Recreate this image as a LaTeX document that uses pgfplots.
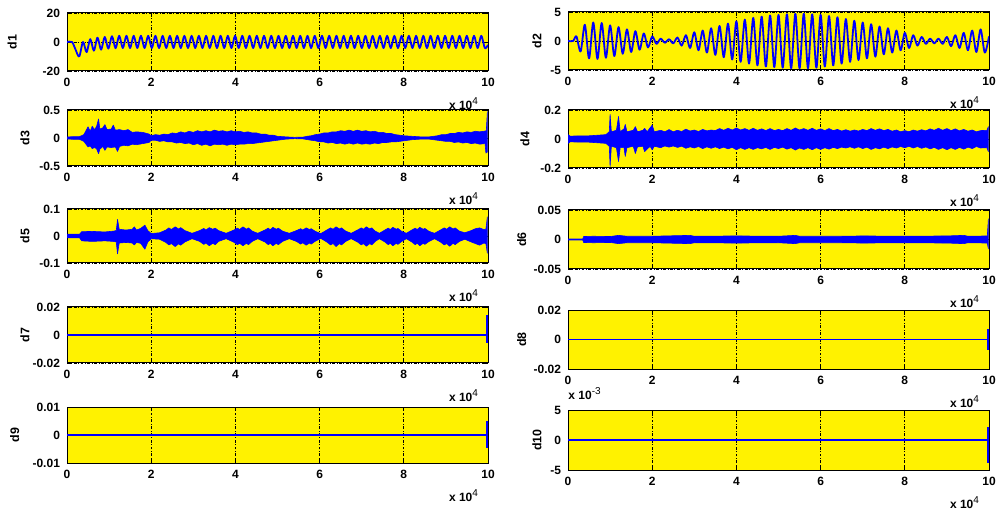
\documentclass[border=0pt]{standalone}
\usepackage{fontspec}
\setmainfont{Liberation Sans}
\usepackage{pgfplots}
\pgfplotsset{compat=1.18}

\pgfplotsset{
  dpanel/.style={
    scale only axis, width=210.5pt, anchor=south west,
    xmin=0, xmax=10, xtick={0,2,4,6,8,10}, xticklabels={0,2,4,6,8,10},
    scaled y ticks=false, scaled x ticks=false,
    axis background/.style={fill=yellow},
    xmajorgrids, ymajorgrids,
    grid style={black, line width=0.35pt, dash pattern=on 1.4pt off 0.8pt on 0.4pt off 0.8pt},
    axis line style={black, line width=0.5pt},
    tick align=inside, major tick length=2pt, tick style={black, line width=0.4pt},
    ticklabel style={font=\fontsize{6}{7}\selectfont\bfseries},
    label style={font=\fontsize{6.2}{7}\selectfont\bfseries},
    xlabel={x 10\textsuperscript{\mdseries 4}},
    xlabel style={at={(rel axis cs:1,0)}, anchor=north east, yshift=-10pt, xshift=-1pt,
      font=\fontsize{6}{7}\selectfont\bfseries},
    cycle list={{blue, no markers}},
    every axis plot/.append style={line width=0.9pt, line join=round},
  },
  sig/.style={blue, no markers, line width=0.9pt},
  band/.style={fill=blue, draw=blue, no markers, line width=0.3pt},
}

\begin{document}
\begin{tikzpicture}
\path[use as bounding box] (0,0) rectangle (500pt,257pt);

% ---- d1 ----
\begin{axis}[dpanel, at={(33.5pt,221.5pt)}, height=29pt,
  ymin=-20, ymax=20, ytick={-20,0,20}, yticklabels={-20,0,20},
  ylabel={d1}, ylabel style={at={(axis description cs:-0.13,0.5)}, anchor=center}]
\addplot[sig, smooth] coordinates {
(0,0)(0.12,0)(0.2,-5)(0.29,-10)(0.38,0)(0.466,-7)(0.552,2)(0.638,-6)(0.724,3)(0.81,-5.3)
(0.896,3.5)(0.982,-4.6)(1.068,4)(1.154,-4.3)
(1.240,4.3)(1.326,-4.2)(1.412,4.3)(1.498,-4.2)(1.584,4.3)(1.670,-4.2)(1.756,4.3)(1.842,-4.2)
(1.928,4.3)(2.014,-4.2)(2.100,4.3)(2.186,-4.2)(2.272,4.3)(2.358,-4.2)(2.444,4.3)(2.530,-4.2)
(2.616,4.3)(2.702,-4.2)(2.788,4.3)(2.874,-4.2)(2.960,4.3)(3.046,-4.2)(3.132,4.3)(3.218,-4.2)
(3.304,4.3)(3.390,-4.2)(3.476,4.3)(3.562,-4.2)(3.648,4.3)(3.734,-4.2)(3.820,4.3)(3.906,-4.2)
(3.992,4.3)(4.078,-4.2)(4.164,4.3)(4.250,-4.2)(4.336,4.3)(4.422,-4.2)(4.508,4.3)(4.594,-4.2)
(4.680,4.3)(4.766,-4.2)(4.852,4.3)(4.938,-4.2)(5.024,4.3)(5.110,-4.2)(5.196,4.3)(5.282,-4.2)
(5.368,4.3)(5.454,-4.2)(5.540,4.3)(5.626,-4.2)(5.712,4.3)(5.798,-4.2)(5.884,4.3)(5.970,-4.2)
(6.056,4.3)(6.142,-4.2)(6.228,4.3)(6.314,-4.2)(6.400,4.3)(6.486,-4.2)(6.572,4.3)(6.658,-4.2)
(6.744,4.3)(6.830,-4.2)(6.916,4.3)(7.002,-4.2)(7.088,4.3)(7.174,-4.2)(7.260,4.3)(7.346,-4.2)
(7.432,4.3)(7.518,-4.2)(7.604,4.3)(7.690,-4.2)(7.776,4.3)(7.862,-4.2)(7.948,4.3)(8.034,-4.2)
(8.120,4.3)(8.206,-4.2)(8.292,4.3)(8.378,-4.2)(8.464,4.3)(8.550,-4.2)(8.636,4.3)(8.722,-4.2)
(8.808,4.3)(8.894,-4.2)(8.980,4.3)(9.066,-4.2)(9.152,4.3)(9.238,-4.2)(9.324,4.3)(9.410,-4.2)
(9.496,4.3)(9.582,-4.2)(9.668,4.3)(9.754,-4.2)(9.840,4.3)(9.926,-4.2)(10,-2)
};
\end{axis}

% ---- d2 ----
\begin{axis}[dpanel, at={(284pt,222pt)}, height=29pt,
  ymin=-5, ymax=5, ytick={-5,0,5}, yticklabels={-5,0,5},
  ylabel={d2}, ylabel style={at={(axis description cs:-0.074,0.5)}, anchor=center}]
\addplot[sig, smooth] coordinates {
(0,0)(0.12,0)(0.2,0.8)(0.3,-1.8)(0.4,2.8)(0.5,-3.0)(0.6,3.2)(0.7,-3.1)(0.8,3.1)(0.9,-2.9)
(1.0,2.7)(1.1,-2.6)(1.2,2.4)(1.3,-2.2)(1.4,2.0)(1.5,-1.9)(1.6,1.7)(1.7,-1.5)(1.8,1.3)(1.9,-1.1)
(2.0,0.8)(2.1,-0.5)(2.2,0.4)(2.3,-0.3)(2.4,0.3)(2.5,-0.4)(2.6,0.6)(2.7,-0.8)(2.8,1.0)(2.9,-1.2)
(3.0,1.5)(3.1,-1.6)(3.2,1.8)(3.3,-2.0)(3.4,2.2)(3.5,-2.4)(3.6,2.6)(3.7,-2.8)(3.8,3.0)(3.9,-3.2)
(4.0,3.4)(4.1,-3.6)(4.2,3.7)(4.3,-3.9)(4.4,4.0)(4.5,-4.2)(4.6,4.2)(4.7,-4.4)(4.8,4.4)(4.9,-4.5)
(5.0,4.5)(5.1,-4.6)(5.2,4.6)(5.3,-4.7)(5.4,4.7)(5.5,-4.7)(5.6,4.7)(5.7,-4.7)(5.8,4.6)(5.9,-4.6)
(6.0,4.5)(6.1,-4.4)(6.2,4.3)(6.3,-4.2)(6.4,4.1)(6.5,-3.9)(6.6,3.8)(6.7,-3.6)(6.8,3.5)(6.9,-3.3)
(7.0,3.2)(7.1,-3.0)(7.2,2.9)(7.3,-2.7)(7.4,2.5)(7.5,-2.3)(7.6,2.2)(7.7,-2.0)(7.8,1.8)(7.9,-1.6)
(8.0,1.4)(8.1,-1.2)(8.2,1.0)(8.3,-0.8)(8.4,0.7)(8.5,-0.5)(8.6,0.4)(8.7,-0.4)(8.8,0.4)(8.9,-0.5)
(9.0,0.7)(9.1,-0.9)(9.2,1.0)(9.3,-1.2)(9.4,1.4)(9.5,-1.6)(9.6,1.8)(9.7,-1.9)(9.8,2.0)(9.9,-2.0)
(10,0.8)
};
\end{axis}

% ---- d3 ----
\begin{axis}[dpanel, at={(33.5pt,174pt)}, height=28pt,
  ymin=-0.5, ymax=0.5, ytick={-0.5,0,0.5}, yticklabels={-0.5,0,0.5},
  ylabel={d3}, ylabel style={at={(axis description cs:-0.1,0.5)}, anchor=center}]
\addplot[band] coordinates {
(0,0.02)(0.3,0.025)(0.4,0.06)(0.5,0.2)(0.55,0.12)(0.6,0.21)(0.65,0.15)(0.7,0.2)(0.75,0.34)
(0.78,0.16)(0.85,0.18)(0.9,0.24)(0.95,0.15)(1.05,0.16)(1.1,0.23)(1.15,0.14)(1.25,0.15)
(1.35,0.13)(1.45,0.15)(1.55,0.1)(1.65,0.11)(1.8,0.1)(1.95,0.07)(2.0,0.04)(2.1,0.06)(2.2,0.05)
(2.3,0.07)(2.4,0.06)(2.5,0.09)(2.6,0.08)(2.7,0.11)(2.8,0.09)(2.9,0.12)(3.0,0.1)(3.1,0.13)
(3.2,0.11)(3.3,0.13)(3.4,0.11)(3.5,0.14)(3.6,0.12)(3.7,0.13)(3.8,0.11)(3.9,0.13)(4.0,0.11)
(4.1,0.12)(4.2,0.1)(4.3,0.11)(4.4,0.09)(4.5,0.09)(4.6,0.07)(4.7,0.07)(4.8,0.05)(4.9,0.05)
(5.0,0.03)(5.2,0.02)(5.4,0.012)(5.6,0.015)(5.7,0.03)(5.8,0.04)(5.9,0.06)(6.0,0.07)(6.1,0.09)
(6.2,0.09)(6.3,0.11)(6.4,0.11)(6.5,0.13)(6.6,0.12)(6.7,0.14)(6.8,0.12)(6.9,0.14)(7.0,0.12)
(7.1,0.13)(7.2,0.11)(7.3,0.12)(7.4,0.1)(7.5,0.1)(7.6,0.08)(7.7,0.08)(7.8,0.06)(7.9,0.05)
(8.0,0.04)(8.2,0.03)(8.4,0.02)(8.6,0.02)(8.8,0.04)(8.9,0.06)(9.0,0.06)(9.1,0.08)(9.2,0.08)
(9.3,0.1)(9.4,0.09)(9.5,0.11)(9.6,0.1)(9.7,0.12)(9.8,0.11)(9.9,0.12)(9.96,0.13)(9.985,0.47)
(9.985,-0.25)(9.95,-0.27)(9.93,-0.1)(9.8,-0.11)(9.7,-0.09)(9.6,-0.1)(9.5,-0.08)(9.4,-0.09)
(9.3,-0.07)(9.2,-0.08)(9.1,-0.06)(9.0,-0.06)(8.8,-0.04)(8.6,-0.02)(8.4,-0.02)(8.2,-0.03)
(8.0,-0.05)(7.9,-0.06)(7.8,-0.07)(7.7,-0.07)(7.6,-0.08)(7.5,-0.08)(7.4,-0.1)(7.3,-0.09)
(7.2,-0.11)(7.1,-0.1)(7.0,-0.11)(6.9,-0.09)(6.8,-0.11)(6.7,-0.09)(6.6,-0.11)(6.5,-0.09)
(6.4,-0.1)(6.3,-0.08)(6.2,-0.09)(6.1,-0.07)(6.0,-0.07)(5.9,-0.05)(5.8,-0.04)(5.6,-0.015)
(5.4,-0.012)(5.2,-0.02)(5.0,-0.04)(4.9,-0.05)(4.8,-0.06)(4.7,-0.07)(4.6,-0.08)(4.5,-0.09)
(4.4,-0.1)(4.3,-0.1)(4.2,-0.11)(4.1,-0.11)(4.0,-0.12)(3.9,-0.11)(3.8,-0.13)(3.7,-0.11)
(3.6,-0.12)(3.5,-0.11)(3.4,-0.14)(3.3,-0.11)(3.2,-0.13)(3.1,-0.1)(3.0,-0.12)(2.9,-0.09)
(2.8,-0.1)(2.7,-0.08)(2.6,-0.09)(2.5,-0.07)(2.4,-0.07)(2.3,-0.05)(2.2,-0.06)(2.1,-0.04)
(2.0,-0.04)(1.95,-0.08)(1.8,-0.1)(1.65,-0.12)(1.55,-0.11)(1.45,-0.14)
(1.35,-0.13)(1.25,-0.15)(1.2,-0.24)(1.15,-0.16)(1.05,-0.17)(0.95,-0.16)(0.9,-0.22)(0.85,-0.15)
(0.78,-0.2)(0.75,-0.28)(0.7,-0.19)(0.65,-0.17)(0.6,-0.19)(0.55,-0.14)(0.5,-0.16)(0.4,-0.06)
(0.3,-0.025)(0,-0.02)
};
\end{axis}

% ---- d4 ----
\begin{axis}[dpanel, at={(284pt,173pt)}, height=29pt,
  ymin=-0.2, ymax=0.2, ytick={-0.2,0,0.2}, yticklabels={-0.2,0,0.2},
  ylabel={d4}, ylabel style={at={(axis description cs:-0.102,0.5)}, anchor=center}]
\addplot[band] coordinates {
(0,0.03)(0.05,0.02)(0.5,0.022)(0.9,0.03)(0.98,0.05)(1.0,0.17)(1.03,0.05)(1.15,0.06)(1.2,0.155)
(1.24,0.05)(1.33,0.07)(1.36,0.1)(1.4,0.05)(1.55,0.06)(1.6,0.085)(1.65,0.05)(1.78,0.06)
(1.82,0.073)(1.88,0.05)(2.0,0.096)(2.05,0.05)(2.2,0.06)(2.3,0.05)(2.4,0.065)(2.5,0.05)
(2.6,0.06)(2.7,0.052)(2.8,0.068)(2.9,0.055)(3.0,0.062)(3.1,0.052)(3.2,0.066)(3.3,0.056)
(3.4,0.062)(3.5,0.058)(3.6,0.072)(3.7,0.06)(3.8,0.074)(3.9,0.062)(4.0,0.076)(4.1,0.062)
(4.2,0.072)(4.3,0.06)(4.4,0.074)(4.5,0.06)(4.6,0.07)(4.7,0.058)(4.8,0.072)(4.9,0.058)
(5.0,0.066)(5.1,0.058)(5.2,0.072)(5.3,0.06)(5.4,0.076)(5.5,0.062)(5.6,0.072)(5.7,0.06)
(5.8,0.074)(5.9,0.06)(6.0,0.07)(6.1,0.058)(6.2,0.072)(6.3,0.058)(6.4,0.066)(6.5,0.055)
(6.6,0.064)(6.7,0.054)(6.8,0.062)(6.9,0.055)(7.0,0.066)(7.1,0.058)(7.2,0.072)(7.3,0.06)
(7.4,0.07)(7.5,0.058)(7.6,0.066)(7.7,0.054)(7.8,0.062)(7.9,0.05)(8.0,0.058)(8.1,0.05)
(8.2,0.062)(8.3,0.054)(8.4,0.064)(8.5,0.056)(8.6,0.07)(8.7,0.06)(8.8,0.074)(8.9,0.06)
(9.0,0.072)(9.1,0.058)(9.2,0.07)(9.3,0.056)(9.4,0.066)(9.5,0.054)(9.6,0.062)(9.7,0.05)
(9.8,0.058)(9.95,0.06)(9.985,0.085)
(9.985,-0.087)(9.95,-0.06)(9.8,-0.062)(9.7,-0.052)(9.6,-0.066)(9.5,-0.056)(9.4,-0.07)
(9.3,-0.058)(9.2,-0.072)(9.1,-0.06)(9.0,-0.074)(8.9,-0.06)(8.8,-0.072)(8.7,-0.058)(8.6,-0.068)
(8.5,-0.055)(8.4,-0.064)(8.3,-0.052)(8.2,-0.062)(8.1,-0.05)(8.0,-0.06)(7.9,-0.052)(7.8,-0.062)
(7.7,-0.055)(7.6,-0.066)(7.5,-0.056)(7.4,-0.068)(7.3,-0.06)(7.2,-0.072)(7.1,-0.056)
(7.0,-0.066)(6.9,-0.054)(6.8,-0.064)(6.7,-0.054)(6.6,-0.062)(6.5,-0.056)(6.4,-0.066)
(6.3,-0.058)(6.2,-0.07)(6.1,-0.06)(6.0,-0.072)(5.9,-0.06)(5.8,-0.074)(5.7,-0.06)(5.6,-0.072)
(5.5,-0.062)(5.4,-0.076)(5.3,-0.06)(5.2,-0.07)(5.1,-0.056)(5.0,-0.066)(4.9,-0.058)(4.8,-0.072)
(4.7,-0.058)(4.6,-0.068)(4.5,-0.06)(4.4,-0.072)(4.3,-0.06)(4.2,-0.072)(4.1,-0.06)(4.0,-0.074)
(3.9,-0.058)(3.8,-0.068)(3.7,-0.056)(3.6,-0.066)(3.5,-0.054)(3.4,-0.064)(3.3,-0.054)
(3.2,-0.066)(3.1,-0.052)(3.0,-0.062)(2.9,-0.054)(2.8,-0.064)(2.7,-0.05)(2.6,-0.058)
(2.5,-0.048)(2.4,-0.056)(2.3,-0.048)(2.2,-0.06)(2.05,-0.05)(2.0,-0.075)(1.95,-0.05)
(1.82,-0.087)(1.78,-0.05)(1.65,-0.055)(1.6,-0.1)(1.55,-0.05)(1.4,-0.06)(1.36,-0.12)
(1.33,-0.06)(1.24,-0.06)(1.2,-0.155)(1.15,-0.06)(1.03,-0.05)(1.0,-0.19)(0.98,-0.05)
(0.9,-0.03)(0.5,-0.022)(0.05,-0.02)(0,-0.03)
};
\end{axis}

% ---- d5 ----
\begin{axis}[dpanel, at={(33.5pt,125.5pt)}, height=27pt,
  ymin=-0.1, ymax=0.1, ytick={-0.1,0,0.1}, yticklabels={-0.1,0,0.1},
  ylabel={d5}, ylabel style={at={(axis description cs:-0.1,0.5)}, anchor=center}]
\addplot[band] coordinates {
(0,0.007)(0.3,0.007)(0.35,0.016)(0.6,0.017)(0.9,0.015)(1.1,0.018)(1.17,0.02)(1.2,0.061)
(1.24,0.025)(1.4,0.022)(1.55,0.025)(1.6,0.034)(1.65,0.022)(1.75,0.028)(1.85,0.04)(1.92,0.02)
(2.0,0.009)(2.2,0.012)(2.35,0.022)(2.42,0.03)(2.48,0.024)(2.57,0.034)(2.65,0.026)(2.7,0.031)(2.8,0.02)
(2.97,0.01)(3.15,0.02)(3.25,0.028)(3.3,0.022)(3.38,0.031)(3.46,0.025)(3.52,0.029)(3.6,0.02)
(3.78,0.01)(3.95,0.021)(4.05,0.029)(4.1,0.024)(4.18,0.034)(4.26,0.025)(4.31,0.03)(4.4,0.018)
(4.53,0.01)(4.7,0.022)(4.78,0.029)(4.83,0.023)(4.89,0.032)(4.97,0.025)(5.02,0.029)(5.12,0.018)
(5.28,0.01)(5.45,0.02)(5.55,0.027)(5.6,0.022)(5.68,0.03)(5.76,0.024)(5.8,0.027)(5.9,0.017)
(6.03,0.009)(6.17,0.022)(6.26,0.03)(6.32,0.025)(6.39,0.034)(6.47,0.026)(6.52,0.03)(6.62,0.018)
(6.75,0.01)(6.9,0.022)(6.99,0.03)(7.04,0.025)(7.11,0.034)(7.19,0.026)(7.24,0.03)(7.32,0.018)
(7.42,0.01)(7.55,0.022)(7.63,0.029)(7.68,0.024)(7.74,0.032)(7.82,0.025)(7.86,0.028)(7.95,0.017)
(8.06,0.01)(8.19,0.022)(8.27,0.029)(8.32,0.024)(8.38,0.032)(8.46,0.025)(8.5,0.028)(8.6,0.017)
(8.73,0.01)(8.87,0.022)(8.96,0.03)(9.02,0.025)(9.09,0.034)(9.17,0.026)(9.22,0.03)(9.32,0.018)
(9.45,0.012)(9.6,0.02)(9.7,0.027)(9.8,0.03)(9.9,0.024)(9.95,0.025)(9.985,0.071)
(9.985,-0.064)(9.95,-0.028)(9.9,-0.026)(9.8,-0.034)(9.7,-0.028)(9.6,-0.022)(9.45,-0.012)
(9.32,-0.02)(9.22,-0.032)(9.17,-0.027)(9.09,-0.038)(9.02,-0.028)(8.96,-0.033)(8.87,-0.022)
(8.73,-0.01)(8.6,-0.02)(8.5,-0.031)(8.46,-0.027)(8.38,-0.036)(8.32,-0.027)(8.27,-0.032)(8.19,-0.022)
(8.06,-0.01)(7.95,-0.02)(7.86,-0.031)(7.82,-0.027)(7.74,-0.036)(7.68,-0.027)(7.63,-0.032)(7.55,-0.022)
(7.42,-0.01)(7.32,-0.02)(7.24,-0.033)(7.19,-0.028)(7.11,-0.038)(7.04,-0.028)(6.99,-0.033)(6.9,-0.022)
(6.75,-0.01)(6.62,-0.02)(6.52,-0.033)(6.47,-0.028)(6.39,-0.039)(6.32,-0.028)(6.26,-0.033)(6.17,-0.022)
(6.03,-0.009)(5.9,-0.019)(5.8,-0.03)(5.76,-0.026)(5.68,-0.034)(5.6,-0.025)(5.55,-0.03)(5.45,-0.02)
(5.28,-0.01)(5.12,-0.02)(5.02,-0.032)(4.97,-0.027)(4.89,-0.036)(4.83,-0.027)(4.78,-0.032)(4.7,-0.022)
(4.53,-0.01)(4.4,-0.02)(4.31,-0.032)(4.26,-0.027)(4.18,-0.036)(4.1,-0.027)(4.05,-0.032)(3.95,-0.022)
(3.78,-0.01)(3.6,-0.02)(3.52,-0.032)(3.46,-0.027)(3.38,-0.036)(3.3,-0.026)(3.25,-0.031)(3.15,-0.02)
(2.97,-0.01)(2.8,-0.022)(2.7,-0.034)(2.65,-0.029)(2.57,-0.039)(2.48,-0.028)(2.42,-0.033)(2.35,-0.024)
(2.2,-0.012)(2.0,-0.01)(1.92,-0.022)(1.85,-0.049)(1.75,-0.027)
(1.65,-0.024)(1.6,-0.033)(1.55,-0.026)(1.4,-0.024)(1.24,-0.026)(1.2,-0.066)(1.17,-0.022)
(1.1,-0.02)(0.9,-0.018)(0.6,-0.02)(0.35,-0.018)(0.3,-0.007)(0,-0.007)
};
\end{axis}

% ---- d6 ----
\begin{axis}[dpanel, at={(284pt,122.5pt)}, height=29.5pt,
  ymin=-0.05, ymax=0.05, ytick={-0.05,0,0.05}, yticklabels={-0.05,0,0.05},
  ylabel={d6}, ylabel style={at={(axis description cs:-0.11,0.5)}, anchor=center}]
\addplot[band] coordinates {
(0,0.0008)(0.35,0.0008)(0.37,0.005)(0.6,0.0055)(1.0,0.005)(1.2,0.007)(1.4,0.0055)(2.0,0.0055)
(2.9,0.007)(3.0,0.0055)(4.0,0.006)(5.0,0.0055)(5.4,0.007)(5.5,0.0055)(6.5,0.0055)(7.0,0.006)
(8.0,0.0055)(9.0,0.006)(9.4,0.007)(9.5,0.0055)(9.96,0.006)(9.985,0.035)
(9.985,-0.016)(9.96,-0.006)(9.5,-0.0055)(9.4,-0.007)(9.0,-0.006)(8.0,-0.0055)(7.0,-0.006)
(6.5,-0.0055)(5.5,-0.0055)(5.4,-0.007)(5.0,-0.0055)(4.0,-0.006)(3.0,-0.0055)(2.9,-0.007)
(2.0,-0.0055)(1.4,-0.0055)(1.2,-0.007)(1.0,-0.005)(0.6,-0.0055)(0.37,-0.005)(0.35,-0.0008)
(0,-0.0008)
};
\end{axis}

% ---- d7 ----
\begin{axis}[dpanel, at={(33.5pt,75.5pt)}, height=28pt,
  ymin=-0.02, ymax=0.02, ytick={-0.02,0,0.02}, yticklabels={-0.02,0,0.02},
  ylabel={d7}, ylabel style={at={(axis description cs:-0.1,0.5)}, anchor=center}]
\addplot[sig] coordinates {(0,0)(9.985,0)};
\addplot[sig] coordinates {(9.985,0.0143)(9.985,-0.0057)};
\end{axis}

% ---- d8 ----
\begin{axis}[dpanel, at={(284pt,72.5pt)}, height=29.5pt,
  ymin=-0.02, ymax=0.02, ytick={-0.02,0,0.02}, yticklabels={-0.02,0,0.02},
  ylabel={d8}, ylabel style={at={(axis description cs:-0.11,0.5)}, anchor=center}]
\addplot[sig] coordinates {(0,0)(9.985,0)};
\addplot[sig] coordinates {(9.985,0.0071)(9.985,-0.0071)};
\end{axis}

% ---- d9 ----
\begin{axis}[dpanel, at={(33.5pt,25.5pt)}, height=28pt,
  ymin=-0.01, ymax=0.01, ytick={-0.01,0,0.01}, yticklabels={-0.01,0,0.01},
  ylabel={d9}, ylabel style={at={(axis description cs:-0.124,0.5)}, anchor=center}]
\addplot[sig] coordinates {(0,0)(9.985,0)};
\addplot[sig] coordinates {(9.985,0.005)(9.985,-0.0046)};
\end{axis}

% ---- d10 (values in 1e-3) ----
\begin{axis}[dpanel, at={(284pt,22pt)}, height=30pt,
  ymin=-5, ymax=5, ytick={-5,0,5}, yticklabels={-5,0,5},
  ylabel={d10}, ylabel style={at={(axis description cs:-0.074,0.5)}, anchor=center},
  title={x 10\textsuperscript{\mdseries -3}},
  title style={at={(rel axis cs:0,1)}, anchor=south west, yshift=-1pt, inner sep=0pt,
    font=\fontsize{6}{7}\selectfont\bfseries}]
\addplot[sig] coordinates {(0,0)(9.985,0)};
\addplot[sig] coordinates {(9.985,2.2)(9.985,-3.8)};
\end{axis}

\end{tikzpicture}
\end{document}
